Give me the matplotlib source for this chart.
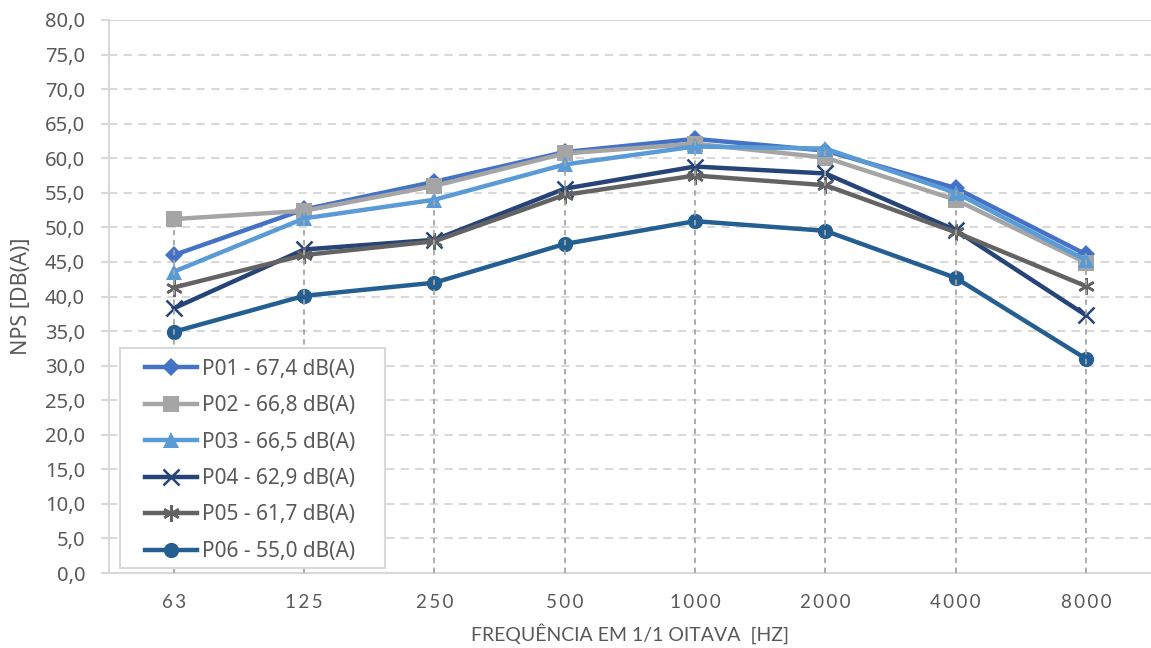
import matplotlib
matplotlib.use("Agg")
import matplotlib.pyplot as plt
from matplotlib.patches import Rectangle
import numpy as np

# Octave-band centre frequencies (Hz)
bands = ["63", "125", "250", "500", "1000", "2000", "4000", "8000"]

# Sound pressure levels per measurement point, dB(A)
p01 = [46.0, 52.6, 56.6, 60.9, 62.8, 61.1, 55.7, 46.1]
p02 = [51.2, 52.4, 56.0, 60.7, 62.1, 60.1, 54.0, 44.9]
p03 = [43.6, 51.3, 54.0, 59.1, 61.7, 61.4, 55.0, 45.3]
p04 = [38.3, 46.8, 48.2, 55.6, 58.8, 57.8, 49.6, 37.3]
p05 = [41.3, 46.0, 48.0, 54.7, 57.5, 56.1, 49.3, 41.5]
p06 = [34.9, 40.1, 42.0, 47.6, 50.9, 49.5, 42.7, 31.0]

labels = [
    "P01 - 67,4 dB(A)",
    "P02 - 66,8 dB(A)",
    "P03 - 66,5 dB(A)",
    "P04 - 62,9 dB(A)",
    "P05 - 61,7 dB(A)",
    "P06 - 55,0 dB(A)",
]

series = [p01, p02, p03, p04, p05, p06]
colors = ["#4472C4", "#A5A5A5", "#5B9BD5", "#264478", "#636363", "#255E91"]
markers = ["D", "s", "^", "x", (6, 2, 0), "o"]
msizes = [9, 11, 11, 11, 12, 11]

text_color = "#595959"
grid_color = "#D9D9D9"
ui_font = ["Noto Sans", "DejaVu Sans"]
body_font = ["Lato", "DejaVu Sans"]

plt.rcParams["font.family"] = ui_font

fig = plt.figure(figsize=(11.51, 6.48), dpi=100)
ax = fig.add_axes([108.8 / 1151, 1 - 573 / 648, 1 - 108.8 / 1151, (573 - 20) / 648])

x = np.arange(len(bands))

for vals, lab, c, m, ms in zip(series, labels, colors, markers, msizes):
    kw = dict(markeredgewidth=1.8) if m in ("x", (6, 2, 0)) else dict(markeredgewidth=0)
    ax.plot(x, vals, color=c, lw=3.2, marker=m, markersize=ms,
            markerfacecolor=c, markeredgecolor=c, label=lab, zorder=3,
            solid_joinstyle="round", **kw)

# Drop lines from the highest value in each band down to the axis
top = np.max(np.array(series), axis=0)
ax.vlines(x, 0, top, colors="#A6A6A6", linestyles=(0, (3, 2.5)), lw=1.3, zorder=4)

ax.set_xlim(-0.5, len(bands) - 0.5)
ax.set_ylim(0, 80)
ax.set_yticks(np.arange(0, 81, 5))
ax.set_yticklabels([f"{v:.1f}".replace(".", ",") for v in np.arange(0, 81, 5)])
ax.set_xticks(x)
# Letter-spaced band labels
ax.set_xticklabels(["\u2009".join(b) for b in bands], family=body_font)

# Horizontal grid: dashed, with a solid line at the top
for v in np.arange(5, 80, 5):
    ax.axhline(v, color=grid_color, lw=1.5, ls=(0, (4, 3)), zorder=1)
ax.axhline(80, color=grid_color, lw=1.5, zorder=1)

for s in ["top", "right"]:
    ax.spines[s].set_visible(False)
for s in ["left", "bottom"]:
    ax.spines[s].set_color(grid_color)
    ax.spines[s].set_linewidth(1.5)

ax.tick_params(axis="y", length=6, width=1.5, color=grid_color, pad=11,
               labelsize=14.5, labelcolor=text_color)
ax.tick_params(axis="x", length=0, pad=15, labelsize=13.5, labelcolor=text_color)

ax.set_xlabel("FREQUÊNCIA EM 1/1 OITAVA  [HZ]", fontsize=14, color=text_color,
              labelpad=9, family=body_font)
ax.set_ylabel("NPS [DB(A)]", fontsize=15.5, color=text_color, labelpad=9)

# Legend box (opaque, covers the drop lines behind it)
ax.add_patch(Rectangle((0.0107, 0.009), 0.254, 0.398, transform=ax.transAxes,
                       facecolor="white", edgecolor=grid_color, lw=1.5, zorder=4.9))
leg = ax.legend(loc="upper left", bbox_to_anchor=(0.0347, 0.3875), borderaxespad=0,
                fontsize=15, handlelength=2.5, labelspacing=0.74, handletextpad=0.25,
                frameon=False, borderpad=0)
for t in leg.get_texts():
    t.set_color(text_color)
leg.set_zorder(5)

fig.savefig("out.png", dpi=100)
